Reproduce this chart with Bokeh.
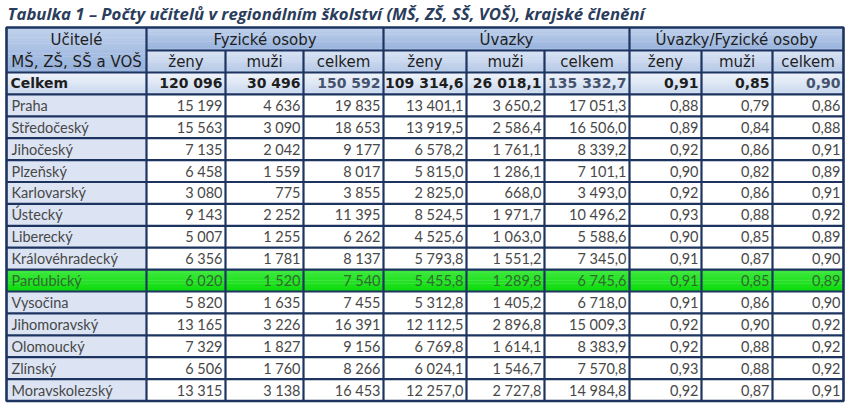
from bokeh.plotting import figure
from bokeh.models import Range1d, ColumnDataSource
from bokeh.core.properties import value
from bokeh.embed import file_html
from bokeh.resources import INLINE

# ---------------- data ----------------
title = "Tabulka 1 – Počty učitelů v regionálním školství (MŠ, ZŠ, SŠ, VOŠ), krajské členění"
corner_lines = ["Učitelé", "MŠ, ZŠ, SŠ a VOŠ"]
groups = ["Fyzické osoby", "Úvazky", "Úvazky/Fyzické osoby"]
subheads = ["ženy", "muži", "celkem"]
total_label = "Celkem"
regions = ["Praha", "Středočeský", "Jihočeský", "Plzeňský", "Karlovarský", "Ústecký",
           "Liberecký", "Královéhradecký", "Pardubický", "Vysočina", "Jihomoravský",
           "Olomoucký", "Zlínský", "Moravskolezský"]
highlight = "Pardubický"
fo_zeny = [15199, 15563, 7135, 6458, 3080, 9143, 5007, 6356, 6020, 5820, 13165, 7329, 6506, 13315]
fo_muzi = [4636, 3090, 2042, 1559, 775, 2252, 1255, 1781, 1520, 1635, 3226, 1827, 1760, 3138]
fo_celkem = [19835, 18653, 9177, 8017, 3855, 11395, 6262, 8137, 7540, 7455, 16391, 9156, 8266, 16453]
uv_zeny = [13401.1, 13919.5, 6578.2, 5815.0, 2825.0, 8524.5, 4525.6, 5793.8, 5455.8, 5312.8,
           12112.5, 6769.8, 6024.1, 12257.0]
uv_muzi = [3650.2, 2586.4, 1761.1, 1286.1, 668.0, 1971.7, 1063.0, 1551.2, 1289.8, 1405.2,
           2896.8, 1614.1, 1546.7, 2727.8]
uv_celkem = [17051.3, 16506.0, 8339.2, 7101.1, 3493.0, 10496.2, 5588.6, 7345.0, 6745.6, 6718.0,
             15009.3, 8383.9, 7570.8, 14984.8]
r_zeny = [0.88, 0.89, 0.92, 0.90, 0.92, 0.93, 0.90, 0.91, 0.91, 0.91, 0.92, 0.92, 0.93, 0.92]
r_muzi = [0.79, 0.84, 0.86, 0.82, 0.86, 0.88, 0.85, 0.87, 0.85, 0.86, 0.90, 0.88, 0.88, 0.87]
r_celkem = [0.86, 0.88, 0.91, 0.89, 0.91, 0.92, 0.89, 0.90, 0.89, 0.90, 0.92, 0.92, 0.92, 0.91]
tot_fo = [120096, 30496, 150592]
tot_uv = [109314.6, 26018.1, 135332.7]
tot_r = [0.91, 0.85, 0.90]

# ---------------- layout / style ----------------
col_edges = [6, 146, 225, 303, 383, 466, 544, 629, 701, 772, 843]
group_span = [(1, 4), (4, 7), (7, 10)]
y_top, y_h1, y_h2 = 27, 50, 72
row_h = 21.9
title_y = 13

C_LINE = "#1d3461"
C_FIRST = "#dce4f4"
C_TXT = "#484848"
C_HTXT = "#1e1e1e"
C_TOT_CELKEM = "#45536f"
C_TITLE = "#2b3d5c"
F_HEAD = value("DejaVu Sans")
F_DATA = value("Lato")


def fmt(v, d):
    s = f"{v:,.{d}f}"
    return s.replace(",", " ").replace(".", ",")


def hex2rgb(h):
    h = h.lstrip("#")
    return [int(h[i:i + 2], 16) for i in (0, 2, 4)]


def mix(c1, c2, t):
    a, b = hex2rgb(c1), hex2rgb(c2)
    return "#%02x%02x%02x" % tuple(round(a[i] + (b[i] - a[i]) * t) for i in range(3))


def gradient(p, lefts, rights, top, bot, c_top, c_bot, steps=10):
    h = (bot - top) / steps
    L, R, T, B, C = [], [], [], [], []
    for k in range(steps):
        col = mix(c_top, c_bot, k / (steps - 1))
        for l, r in zip(lefts, rights):
            L.append(l); R.append(r); T.append(top + k * h); B.append(top + (k + 1) * h + 0.3); C.append(col)
    p.quad(left=L, right=R, top=T, bottom=B, fill_color=C, line_color=None)


p = figure(width=854, height=409, output_backend="svg", toolbar_location=None,
           x_range=Range1d(0, 854), y_range=Range1d(409, 0),
           min_border=0, outline_line_color=None, background_fill_color="white",
           border_fill_color="white")
p.xaxis.visible = False
p.yaxis.visible = False
p.xgrid.visible = False
p.ygrid.visible = False

# --- title
p.text(x=[7], y=[title_y], text=[title], text_font=value("Open Sans"), text_font_size="16.8px",
       text_font_style="bold italic", text_color=C_TITLE, text_baseline="middle",
       text_align="left")

# --- fills
n = len(regions)
row_tops = [y_h2 + i * row_h for i in range(n + 1)]
bottom = row_tops[-1] + row_h

# header cells (gradients)
gradient(p, [col_edges[0]], [col_edges[1]], y_top, y_h2, "#bed0ec", "#96b1db", 14)
gradient(p, [col_edges[a] for a, b in group_span], [col_edges[b] for a, b in group_span],
         y_top, y_h1, "#bed0ec", "#98b3dc", 10)
gradient(p, [col_edges[1]], [col_edges[-1]], y_h1, y_h2, "#d9e3f4", "#b6c9e7", 10)
# total row
gradient(p, [col_edges[0]], [col_edges[-1]], row_tops[0], row_tops[0] + row_h, "#eef3fa", "#cad8ee", 10)
# first column for data rows
p.quad(left=[col_edges[0]], right=[col_edges[1]], top=[row_tops[1]], bottom=[bottom],
       fill_color=C_FIRST, line_color=None)
# highlight row
hi = regions.index(highlight) + 1
gradient(p, [col_edges[0]], [col_edges[-1]], row_tops[hi], row_tops[hi] + row_h, "#3ce83c", "#0edc0e", 8)

# --- grid lines
xs0, ys0, xs1, ys1 = [], [], [], []
xs0.append(col_edges[1]); xs1.append(col_edges[-1]); ys0.append(y_h1); ys1.append(y_h1)
for yy in row_tops[:] + [bottom]:
    xs0.append(col_edges[0]); xs1.append(col_edges[-1]); ys0.append(yy); ys1.append(yy)
for c in [1, 4, 7]:
    xs0.append(col_edges[c]); xs1.append(col_edges[c]); ys0.append(y_top); ys1.append(bottom)
for c in [2, 3, 5, 6, 8, 9]:
    xs0.append(col_edges[c]); xs1.append(col_edges[c]); ys0.append(y_h1); ys1.append(bottom)
p.segment(x0=xs0, y0=ys0, x1=xs1, y1=ys1, line_color=C_LINE, line_width=2.2)
p.quad(left=[col_edges[0]], right=[col_edges[-1]], top=[y_top], bottom=[bottom],
       fill_color=None, line_color=C_LINE, line_width=2.6)

# --- header texts
cx0 = (col_edges[0] + col_edges[1]) / 2
p.text(x=[cx0, cx0], y=[39, 61], text=corner_lines, text_font=F_HEAD, text_font_size="15px",
       text_color=C_HTXT, text_align="center", text_baseline="middle")
p.text(x=[(col_edges[a] + col_edges[b]) / 2 for a, b in group_span], y=[(y_top + y_h1) / 2 + 0.5] * 3,
       text=groups, text_font=F_HEAD, text_font_size="15px", text_color=C_HTXT,
       text_align="center", text_baseline="middle")
p.text(x=[(col_edges[c] + col_edges[c + 1]) / 2 for c in range(1, 10)], y=[(y_h1 + y_h2) / 2] * 9,
       text=subheads * 3, text_font=F_HEAD, text_font_size="15px", text_color=C_HTXT,
       text_align="center", text_baseline="middle")

# --- total row
ty = row_tops[0] + row_h / 2
p.text(x=[col_edges[0] + 4], y=[ty], text=[total_label], text_font=F_HEAD, text_font_size="14px",
       text_font_style="bold", text_color=C_HTXT, text_align="left", text_baseline="middle")
tot_txt = [fmt(v, 0) for v in tot_fo] + [fmt(v, 1) for v in tot_uv] + [fmt(v, 2) for v in tot_r]
tot_col = [C_HTXT, C_HTXT, C_TOT_CELKEM] * 3
p.text(x="x", y="y", text="t", text_color="c",
       source=ColumnDataSource(dict(x=[col_edges[c + 1] - 3 for c in range(1, 10)], y=[ty] * 9,
                                    t=tot_txt, c=tot_col)),
       text_font=F_HEAD, text_font_size="14px", text_font_style="bold", text_align="right",
       text_baseline="middle")

# --- data rows
cols = [(fo_zeny, 0), (fo_muzi, 0), (fo_celkem, 0), (uv_zeny, 1), (uv_muzi, 1), (uv_celkem, 1),
        (r_zeny, 2), (r_muzi, 2), (r_celkem, 2)]
xs, ys, txt, clr = [], [], [], []
lx, ly, lt, lc = [], [], [], []
for i, reg in enumerate(regions):
    yy = row_tops[i + 1] + row_h / 2
    color = "#2f6a2f" if reg == highlight else C_TXT
    lx.append(col_edges[0] + 5); ly.append(yy); lt.append(reg); lc.append(color)
    for c, (arr, d) in enumerate(cols):
        xs.append(col_edges[c + 2] - 3); ys.append(yy); txt.append(fmt(arr[i], d)); clr.append(color)
p.text(x="x", y="y", text="t", text_color="c",
       source=ColumnDataSource(dict(x=lx, y=ly, t=lt, c=lc)), text_font=F_DATA,
       text_font_size="14.5px", text_align="left", text_baseline="middle")
p.text(x="x", y="y", text="t", text_color="c",
       source=ColumnDataSource(dict(x=xs, y=ys, t=txt, c=clr)), text_font=F_DATA,
       text_font_size="14.5px", text_align="right", text_baseline="middle")

open("out.html", "w").write(file_html(p, INLINE))
